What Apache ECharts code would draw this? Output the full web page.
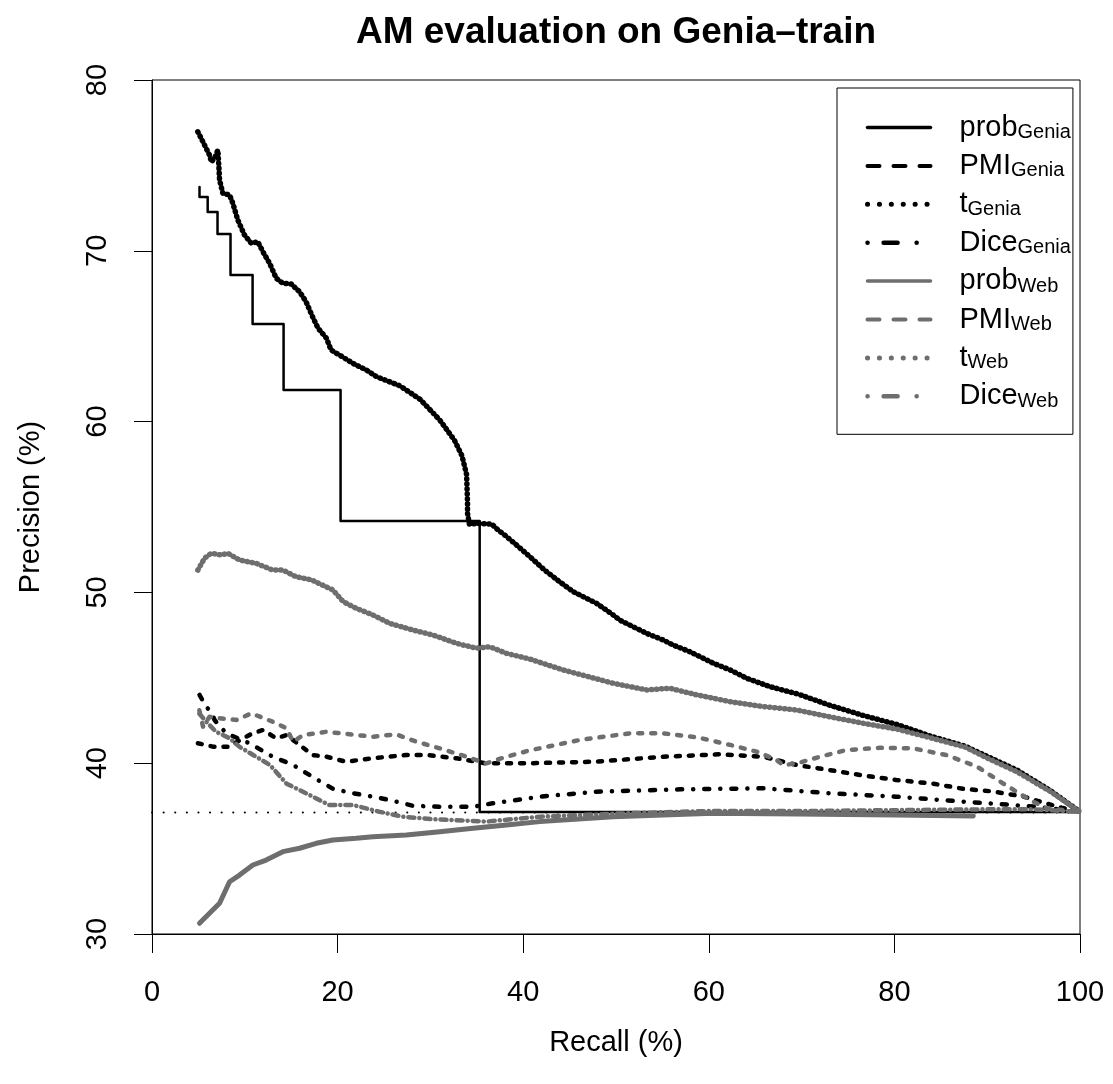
<!DOCTYPE html>
<html>
<head>
<meta charset="utf-8">
<title>AM evaluation on Genia-train</title>
<script src="https://cdn.jsdelivr.net/npm/echarts@6/dist/echarts.min.js"></script>
<style>
  html, body { margin: 0; padding: 0; background: #fff; }
  #chart { width: 1113px; height: 1084px; }
</style>
</head>
<body>
<div id="chart"></div>
<script>
// recall (%) / precision (%) pairs
var probGenia = [[5.12,73.74],[5.12,73.15],[6.0,72.27],[7.06,70.98],[8.46,68.58],[10.84,65.71],
    [14.18,61.85],[20.32,54.18],[35.31,37.14],[100,37.14]];
var pmiGenia = [[4.94,41.17],[6.56,40.97],[8.36,40.97],[9.79,41.46],[10.87,41.75],[11.95,41.94],
    [13.4,41.46],[14.5,41.65],[15.9,41.07],[17.3,40.48],[18.8,40.38],[20.9,40.09],[23.8,40.29],
    [27.4,40.48],[29.6,40.48],[32.8,40.29],[36.0,39.99],[40.0,39.99],[47.9,40.09],[55.1,40.38],
    [61.2,40.52],[65.9,40.38],[69.5,39.89],[73.0,39.6],[77.0,39.25],[80.2,39.02],[84.2,38.8],
    [87.4,38.5],[90.5,38.35],[93.9,38.05],[96.0,37.7],[98.0,37.4],[100,37.15]];
var tGenia = [[4.94,76.97],[5.48,76.39],[6.2,75.6],[6.4,75.2],[6.8,75.5],[7.1,75.9],[7.2,75.0],
    [7.28,74.15],[7.63,73.37],[8.36,73.27],[8.71,72.78],[9.25,71.8],[9.97,70.92],[10.7,70.44],
    [11.4,70.53],[11.95,69.95],[12.67,69.27],[13.39,68.39],[14.1,68.1],[15.0,68.06],[15.9,67.6],
    [16.6,67.02],[17.3,66.14],[17.9,65.46],[18.8,64.88],[19.3,64.19],[20.2,63.9],[21.65,63.41],
    [23.1,63.02],[24.2,62.63],[26.7,62.1],[28.9,61.3],[31.0,60.1],[32.6,58.9],[33.4,58.0],
    [33.9,56.9],[34.0,55.3],[34.0,54.63],[34.2,54.0],[35.3,54.04],[36.6,54.0],[37.3,53.65],
    [38.0,53.36],[39.27,52.78],[40.7,52.1],[42.3,51.31],[43.9,50.63],[45.4,50.04],[47.9,49.36],
    [49.7,48.68],[50.4,48.38],[53.3,47.6],[55.1,47.21],[56.15,46.92],[57.95,46.53],[60.5,45.85],
    [62.3,45.46],[64.1,44.97],[66.6,44.48],[69.6,44.05],[73.0,43.4],[76.6,42.8],[80.4,42.25],
    [83.8,41.6],[87.6,41.0],[90.0,40.4],[93.2,39.6],[96.8,38.4],[100,37.15]];
var diceGenia = [[5.12,44.0],[5.84,43.3],[6.38,43.0],[6.74,42.53],[8.0,41.75],[10.5,41.17],
    [13.0,40.38],[15.2,39.9],[17.3,39.2],[19.5,38.5],[21.65,38.24],[23.8,38.04],[25.6,37.85],
    [28.1,37.51],[31.0,37.45],[34.6,37.45],[36.7,37.65],[39.3,37.85],[41.8,38.04],[47.9,38.33],
    [56.9,38.47],[65.9,38.53],[73.0,38.24],[80.2,38.04],[87.4,37.75],[92.8,37.55],[95.3,37.45],
    [100,37.15]];
var probWeb = [[5.12,30.63],[6.2,31.21],[7.28,31.8],[8.36,33.06],[9.43,33.45],[10.87,34.04],
    [12.3,34.33],[14.1,34.82],[15.9,35.02],[17.7,35.31],[19.5,35.5],[22.0,35.6],[23.8,35.7],
    [27.4,35.8],[31.0,35.99],[34.6,36.19],[38.2,36.38],[41.8,36.58],[49.7,36.87],[60.5,37.07],
    [69.5,37.03],[80.2,36.97],[88.5,36.91]];
var pmiWeb = [[5.1,43.1],[5.5,42.14],[6.2,42.72],[7.3,42.63],[9.1,42.53],[10.7,42.92],[13.0,42.43],
    [14.5,42.04],[15.2,41.26],[16.3,41.65],[18.8,41.84],[22.0,41.65],[23.8,41.55],[26.3,41.69],
    [28.5,41.26],[31.0,40.87],[33.9,40.38],[36.0,39.99],[38.2,40.38],[40.7,40.75],[46.1,41.36],
    [51.5,41.75],[55.1,41.75],[58.7,41.52],[62.3,41.07],[65.2,40.67],[67.3,40.19],[68.0,39.89],
    [69.5,39.99],[72.0,40.38],[74.8,40.77],[78.4,40.9],[82.0,40.87],[85.6,40.48],[88.9,39.8],
    [91.7,38.82],[94.6,37.85],[96.4,37.36],[100,37.15]];
var tWeb = [[4.94,51.31],[5.66,52.0],[6.38,52.29],[7.46,52.19],[8.17,52.29],[9.43,51.9],
    [11.23,51.7],[13.0,51.31],[14.1,51.31],[15.5,50.92],[17.2,50.73],[19.5,50.14],[20.6,49.46],
    [22.0,49.07],[23.8,48.68],[25.6,48.19],[28.1,47.8],[30.3,47.5],[32.8,47.02],[34.95,46.73],
    [36.4,46.82],[38.2,46.43],[40.7,46.1],[44.3,45.46],[49.7,44.68],[53.3,44.29],[55.8,44.39],
    [58.7,44.0],[62.3,43.6],[65.9,43.31],[69.5,43.11],[73.0,42.72],[76.6,42.34],[80.4,41.98],
    [83.8,41.5],[87.6,40.95],[90.0,40.3],[93.2,39.5],[96.8,38.35],[100,37.15]];
var diceWeb = [[5.1,42.9],[6.0,42.34],[6.9,41.84],[8.36,41.46],[9.4,40.97],[10.9,40.48],
    [12.7,39.9],[14.5,38.8],[16.6,38.24],[19.1,37.55],[21.65,37.55],[24.5,37.16],[27.0,36.87],
    [30.3,36.72],[34.6,36.62],[36.0,36.58],[41.8,36.87],[50,37.05],[60,37.2],[70,37.2],
    [80,37.25],[90,37.3],[95,37.3],[100,37.15]];
var baseline = 37.12;          // precision of the unranked list
var recallRange = [0, 100];

var FONT = 'Liberation Sans';
var black = '#000000', gray = '#6e6e6e';

var myChart = echarts.init(document.getElementById('chart'), null, {renderer: 'canvas'});

function curve(name, data, color, width, type, extra) {
    var s = {
        name: name,
        type: 'line',
        data: data,
        symbol: 'circle',
        showSymbol: false,
        silent: true,
        lineStyle: {color: color, width: width, type: type, cap: 'round', join: 'round'},
        itemStyle: {color: color}
    };
    for (var k in extra) s[k] = extra[k];
    return s;
}

// legend keys follow R's lty 1..4
function key(name, color, type, w) {
    return {name: name, lineStyle: {color: color, width: w || 3.5, type: type, cap: 'round', opacity: 1}};
}

var option = {
    animation: false,
    backgroundColor: '#fff',
    title: {
        text: 'AM evaluation on Genia\u2013train',
        left: 616,
        top: 14,
        padding: 0,
        textAlign: 'center',
        textStyle: {fontFamily: FONT, fontSize: 37, fontWeight: 'bold', color: '#000'}
    },
    grid: {
        left: 152, right: 33, top: 80, bottom: 150,
        show: true, borderColor: '#000', borderWidth: 1, backgroundColor: 'transparent'
    },
    xAxis: {
        type: 'value', min: 0, max: 100, interval: 20,
        name: 'Recall (%)', nameLocation: 'middle', nameGap: 94,
        nameTextStyle: {fontFamily: FONT, fontSize: 29, color: '#000'},
        axisLine: {show: true, lineStyle: {color: '#000', width: 1}},
        axisTick: {show: true, length: 19, lineStyle: {color: '#000', width: 1}},
        axisLabel: {fontFamily: FONT, fontSize: 29, color: '#000', margin: 44},
        splitLine: {show: false}
    },
    yAxis: {
        type: 'value', min: 30, max: 80, interval: 10,
        name: 'Precision (%)', nameLocation: 'middle', nameGap: 107, nameRotate: 90,
        nameTextStyle: {fontFamily: FONT, fontSize: 29, color: '#000'},
        axisLine: {show: true, lineStyle: {color: '#000', width: 1}},
        axisTick: {show: true, length: 18, lineStyle: {color: '#000', width: 1}},
        axisLabel: {fontFamily: FONT, fontSize: 29, color: '#000', rotate: 90, margin: 40},
        splitLine: {show: false}
    },
    legend: {
        orient: 'vertical',
        left: 837, top: 88,
        padding: [25, 2, 23, 28],
        itemWidth: 63, itemHeight: 30, itemGap: 8.9,
        borderColor: '#000', borderWidth: 1, backgroundColor: '#fff',
        selectedMode: false,
        itemStyle: {opacity: 0},
        formatter: function (name) {
            var p = name.split('_');
            return '{m|' + p[0] + '}{s|' + p[1] + '}';
        },
        textStyle: {
            fontFamily: FONT, color: '#000',
            rich: {
                m: {fontFamily: FONT, fontSize: 29, color: '#000', lineHeight: 30, padding: [0, 0, 0, 24]},
                s: {fontFamily: FONT, fontSize: 20, color: '#000', lineHeight: 14, verticalAlign: 'bottom'}
            }
        },
        data: [
            key('prob_Genia', black, 'solid'),
            key('PMI_Genia', black, [12, 14], 4),
            key('t_Genia', black, [0.1, 11.8], 5),
            key('Dice_Genia', black, [0.1, 16, 14, 19], 4.5),
            key('prob_Web', gray, 'solid'),
            key('PMI_Web', gray, [12, 14], 4),
            key('t_Web', gray, [0.1, 11.8], 5),
            key('Dice_Web', gray, [0.1, 16, 14, 19], 4.5)
        ]
    },
    series: [
        curve('baseline', [[recallRange[0], baseline], [recallRange[1], baseline]], black, 2, [0.1, 11.5]),
        curve('prob_Genia', probGenia, black, 2.5, 'solid', {step: 'end'}),
        curve('PMI_Genia', pmiGenia, black, 4.5, [4, 9]),
        curve('t_Genia', tGenia, black, 5.5, [0.5, 4.5]),
        curve('Dice_Genia', diceGenia, black, 4.5, [5, 11, 0.1, 11]),
        curve('prob_Web', probWeb, gray, 5, 'solid'),
        curve('PMI_Web', pmiWeb, gray, 4.5, [4, 9]),
        curve('t_Web', tWeb, gray, 5.5, [0.5, 4.5]),
        curve('Dice_Web', diceWeb, gray, 4.5, [6, 5, 0.1, 5])
    ]
};

myChart.setOption(option);
</script>
</body>
</html>
